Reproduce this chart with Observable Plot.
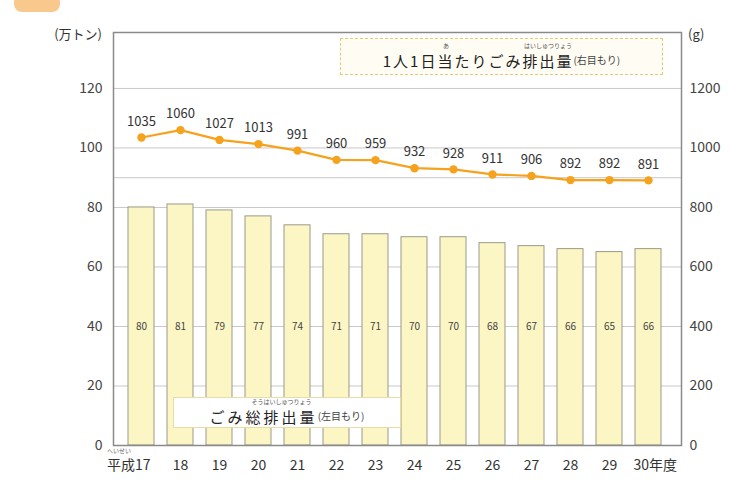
<!DOCTYPE html>
<html>
<head>
<meta charset="utf-8">
<script src="https://cdn.jsdelivr.net/npm/d3@7"></script>
<script src="https://cdn.jsdelivr.net/npm/@observablehq/plot@0.6"></script>
<style>
  html, body { margin: 0; padding: 0; background: #fff; }
  #wrap { position: relative; width: 730px; height: 493px; overflow: hidden; font-family: "Noto Sans CJK JP", "Noto Sans", sans-serif; }
  .ov { position: absolute; color: #333; white-space: nowrap; }
  .box { display: flex; align-items: center; justify-content: center; box-sizing: border-box; line-height: 1; padding-top: 7px; }
  .fb { position: relative; display: inline-block; line-height: 1; }
  .fg { position: absolute; bottom: calc(100% + 4px); left: 50%; transform: translateX(-50%); font-size: 6px; line-height: 1; color: #555; letter-spacing: 0; white-space: nowrap; }
  .small { font-size: 10px; letter-spacing: 0; color: #444; }
</style>
</head>
<body>
<div id="wrap"></div>
<script>
// ---- data ----
const years = ["17","18","19","20","21","22","23","24","25","26","27","28","29","30"];
const xLabels = ["平成17","18","19","20","21","22","23","24","25","26","27","28","29","30年度"];
const totalWaste = [80, 81, 79, 77, 74, 71, 71, 70, 70, 68, 67, 66, 65, 66];          // 万トン (left)
const perCapita = [1035, 1060, 1027, 1013, 991, 960, 959, 932, 928, 911, 906, 892, 892, 891]; // g (right)
const leftTicks = [0, 20, 40, 60, 80, 100, 120];
const gridLevels = [20, 40, 60, 80, 90, 100, 120];
const barLabelLevel = 40;
const ratio = 10; // right scale = left * 10

const rows = years.map((y, i) => ({year: y, label: xLabels[i], total: totalWaste[i], pc: perCapita[i]}));
const orange = "#f5a21e";

const chart = Plot.plot({
  width: 730,
  height: 493,
  marginTop: 32,
  marginBottom: 48,
  marginLeft: 113,
  marginRight: 49,
  style: {fontFamily: '"Noto Sans CJK JP", "Noto Sans", sans-serif', background: "transparent", color: "#333"},
  x: {type: "band", domain: years, paddingInner: 0.33, paddingOuter: 0.165, insetLeft: 4, insetRight: 8, axis: null},
  y: {domain: [0, 138.8], axis: null},
  marks: [
    Plot.ruleY(gridLevels, {stroke: "#c8c8c8", strokeWidth: 1}),
    Plot.barY(rows, {x: "year", y: "total", fill: "#fcf6c4", stroke: "#9a9a8a", strokeWidth: 1}),
    Plot.text(rows, {x: "year", y: () => barLabelLevel, text: d => String(d.total), fontSize: 10, fill: "#444"}),
    Plot.frame({stroke: "#8a8a8a", strokeWidth: 1.5}),
    Plot.axisY(leftTicks, {anchor: "left", label: null, tickSize: 0, tickPadding: 11, fontSize: 14, fill: "#444"}),
    Plot.axisY(leftTicks, {anchor: "right", label: null, tickSize: 0, tickPadding: 8, fontSize: 14, fill: "#444", tickFormat: d => String(d * ratio)}),
    Plot.line(rows, {x: "year", y: d => d.pc / ratio, stroke: orange, strokeWidth: 2.2}),
    Plot.dot(rows, {x: "year", y: d => d.pc / ratio, r: 4.2, fill: orange}),
    Plot.text(rows, {x: "year", y: d => d.pc / ratio, text: d => String(d.pc), dy: -16, fontSize: 13, fill: "#333"}),
    Plot.text(rows.slice(0, 1), {x: "year", text: "label", frameAnchor: "bottom", dy: 24, dx: 9, textAnchor: "end", fontSize: 14, fill: "#333"}),
    Plot.text(rows.slice(1, -1), {x: "year", text: "label", frameAnchor: "bottom", dy: 24, fontSize: 14, fill: "#333"}),
    Plot.text(rows.slice(-1), {x: "year", text: "label", frameAnchor: "bottom", dy: 24, dx: -15, textAnchor: "start", fontSize: 14, fill: "#333"})
  ]
});

const wrap = document.getElementById("wrap");
wrap.appendChild(chart);

const overlay = `
  <div class="ov" style="left:14px;top:-6px;width:46px;height:18px;background:#f8c88c;border-radius:8px;"></div>
  <div class="ov" style="left:36px;top:24px;width:66px;text-align:right;font-size:13px;">(万トン)</div>
  <div class="ov" style="left:688px;top:24px;font-size:13px;">(g)</div>
  <div class="ov" style="left:107px;top:448px;font-size:6px;line-height:1;color:#666;">へいせい</div>
  <div class="ov box" style="left:340px;top:38px;width:323px;height:37px;border:1px dashed #e6c878;background:#fffdf3;font-size:15px;letter-spacing:2px;color:#222;">
    <span>1人1日</span><span class="fb">当<span class="fg">あ</span></span><span>たりごみ</span><span class="fb">排出量<span class="fg">はいしゅつりょう</span></span><span class="small">(右目もり)</span>
  </div>
  <div class="ov box" style="left:173px;top:397px;width:228px;height:31px;border:1px solid #e8dca8;background:#fff;font-size:15px;letter-spacing:3px;color:#222;">
    <span>ごみ</span><span class="fb">総排出量<span class="fg">そうはいしゅつりょう</span></span><span class="small">(左目もり)</span>
  </div>
`;
wrap.insertAdjacentHTML("beforeend", overlay);
</script>
</body>
</html>
